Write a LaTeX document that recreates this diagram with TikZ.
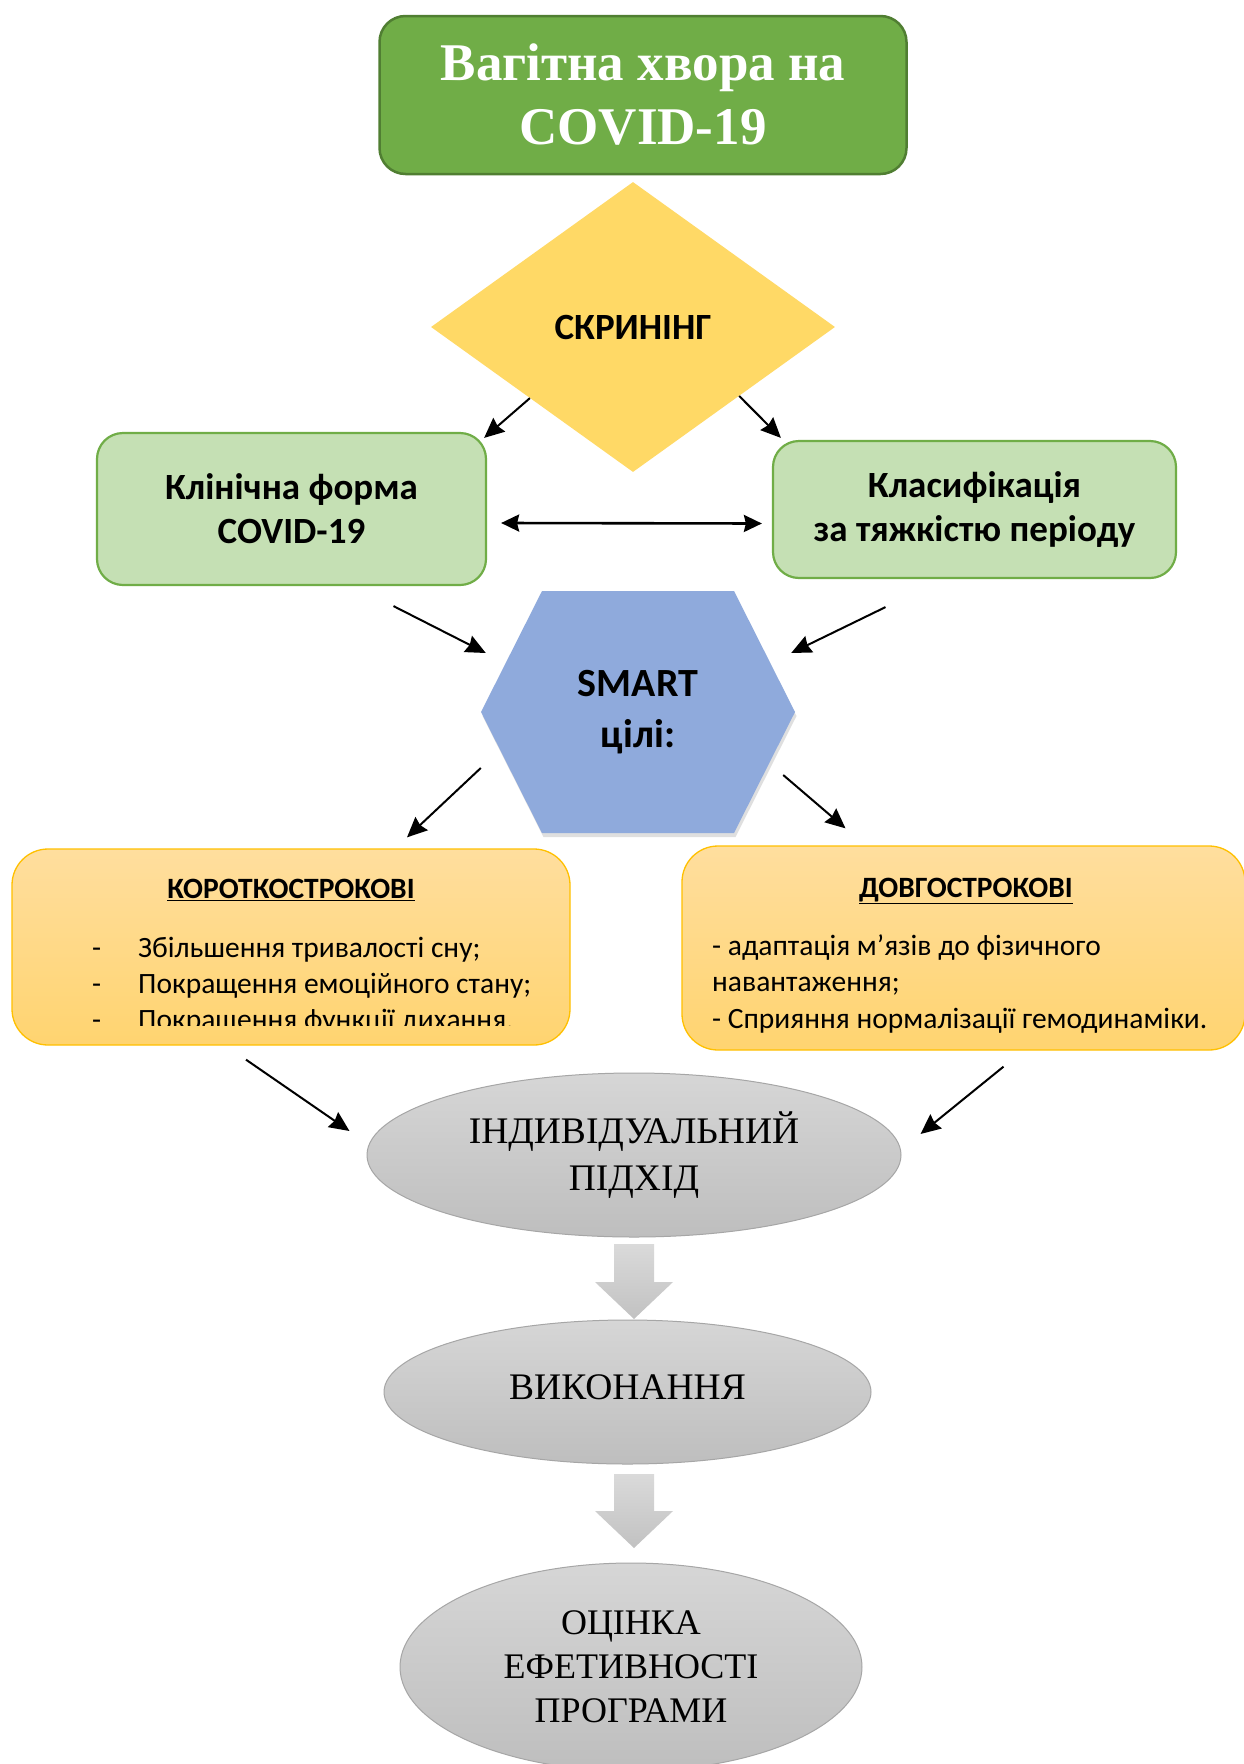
\documentclass[tikz,border=0pt]{standalone}
\usepackage{fontspec}
\setmainfont{Liberation Serif}
\newfontfamily\calib{Carlito}
\usetikzlibrary{shapes.geometric,arrows.meta,calc,shadows}
\definecolor{topgreen}{HTML}{70AD47}
\definecolor{topborder}{HTML}{507E32}
\definecolor{diayellow}{HTML}{FFD966}
\definecolor{lightgreen}{HTML}{C5E0B4}
\definecolor{hexblue}{HTML}{8FAADC}
\definecolor{orangetop}{HTML}{FFDE9E}
\definecolor{orangebot}{HTML}{FFD470}
\definecolor{orangeborder}{HTML}{FFC000}
\definecolor{greytop}{HTML}{D6D6D6}
\definecolor{greybot}{HTML}{BEBEBE}
\begin{document}
\begin{tikzpicture}[x=1pt,y=-1pt,
  conn/.style={line width=2pt,-{Stealth[length=20pt,width=18pt,inset=2pt]}},
  biconn/.style={line width=2.6pt,{Stealth[length=18pt,width=17pt,inset=2pt]}-{Stealth[length=18pt,width=17pt,inset=2pt]}},
  greenbox/.style={draw=topgreen,line width=2.2pt,fill=lightgreen,rounded corners=26pt,inner sep=0pt},
  orangebox/.style={draw=orangeborder,line width=1.3pt,top color=orangetop,bottom color=orangebot,rounded corners=36pt,inner sep=0pt},
  greyell/.style={ellipse,draw=black!35,line width=1pt,top color=greytop,bottom color=greybot,inner sep=0pt},
  blockarr/.style={top color=greytop!90!white,bottom color=greybot!95!white,draw=none},
  calb/.style={font=\calib\bfseries\fontsize{37}{44}\selectfont,align=center},
  serif/.style={font=\fontsize{37.5}{47}\selectfont,align=center},
  bodytext/.style={font=\calib\fontsize{29.5}{36}\selectfont,anchor=base west,inner sep=0pt}
]
\useasboundingbox[fill=white] (0,0) rectangle (1243,1764);

% top box
\node[draw=topborder,line width=2.5pt,fill=topgreen,rounded corners=26pt,
  minimum width=527pt,minimum height=158pt,text=white,
  font=\bfseries\fontsize{53}{64}\selectfont,align=center] (top) at (643,95)
  {\raisebox{-3pt}{Вагітна хвора на}\\\raisebox{-3pt}{COVID-19}};

% diamond
\node[diamond,fill=diayellow,minimum width=404pt,minimum height=290pt,inner sep=0pt,
  font=\calib\bfseries\fontsize{37}{44}\selectfont] (dia) at (633,327) {СКРИНІНГ};

% green boxes
\node[greenbox,minimum width=389pt,minimum height=152pt,calb] (lg) at (291.5,509)
  {Клінічна форма\\COVID-19};
\node[greenbox,minimum width=403pt,minimum height=137pt,calb] (rg) at (974.5,509.5)
  {Класифікація\\за тяжкістю періоду};

\draw[conn] ($(dia.west)!0.49!(dia.south)$) -- ([shift={(-3pt,-6pt)}]lg.north east);
\draw[conn] ($(dia.east)!0.475!(dia.south)$) -- ([shift={(9pt,2pt)}]rg.north west);
\draw[biconn] ([shift={(14pt,-14pt)}]lg.east) -- ([shift={(-10pt,-14pt)}]rg.west);

% hexagon
\fill[hexblue,drop shadow={shadow xshift=1.5pt,shadow yshift=-4pt,opacity=0.25}]
  (542,591) -- (734,591) -- (795,712) -- (734,833) -- (542,833) -- (481,712) -- cycle;
\node[minimum width=314pt,minimum height=242pt,inner sep=0pt,
  font=\calib\bfseries\fontsize{40}{51}\selectfont,align=center] (hex) at (638,712)
  {SMART\\цілі:};

\draw[conn] ([shift={(102pt,-20pt)}]lg.south) -- ([shift={(5pt,59pt)}]hex.west);
\draw[conn] ([shift={(-89pt,-28pt)}]rg.south) -- ([shift={(-4pt,59pt)}]hex.east);

% orange boxes
\node[orangebox,minimum width=558pt,minimum height=196pt] (lo) at (291,947) {};
\node[orangebox,minimum width=563pt,minimum height=204pt] (ro) at (963.5,948) {};

\draw[conn] ([yshift=-56pt]hex.west) -- ([shift={(116pt,11pt)}]lo.north);
\draw[conn] ([shift={(-12pt,-63pt)}]hex.east) -- ([shift={(-118pt,17pt)}]ro.north);

% left box texts
\node[font=\calib\bfseries\fontsize{29.5}{34}\selectfont] (loh) at (291,890) {\underline{КОРОТКОСТРОКОВІ}};
\begin{scope}
  \clip (20,900) rectangle (565,1025);
  \node[bodytext] (d1) at (92,957) {-};
  \node[bodytext] (t1) at (138,957) {Збільшення тривалості сну;};
  \node[bodytext] (d2) at (92,993) {-};
  \node[bodytext] (t2) at (138,993) {Покращення емоційного стану;};
  \node[bodytext] (d3) at (92,1029) {-};
  \node[bodytext] (t3) at (138,1029) {Покращення функції дихання.};
\end{scope}

% right box texts
\node[font=\calib\bfseries\fontsize{29.5}{34}\selectfont] (roh) at (966,891) {\underline{ДОВГОСТРОКОВІ}};
\node[bodytext] (r1) at (712,955) {- адаптація м’язів до фізичного};
\node[bodytext] (r2) at (712,991) {навантаження;};
\node[bodytext] (r3) at (712,1028) {- Сприяння нормалізації гемодинаміки.};

% ellipses
\node[greyell,minimum width=534pt,minimum height=164pt,serif] (e1) at (634,1155)
  {ІНДИВІДУАЛЬНИЙ\\ПІДХІД};
\node[greyell,minimum width=487pt,minimum height=144pt,serif] (e2) at (627.5,1392)
  {\raisebox{9pt}{ВИКОНАННЯ}};
\node[greyell,minimum width=462pt,minimum height=208pt,font=\fontsize{36}{44}\selectfont,align=center] (e3) at (631,1667)
  {ОЦІНКА\\ЕФЕТИВНОСТІ\\ПРОГРАМИ};

\draw[conn] ([shift={(-45pt,-14pt)}]lo.south) -- ([shift={(-17pt,24pt)}]e1.west);
\draw[conn] ([shift={(40pt,-16pt)}]ro.south) -- ([shift={(19pt,21pt)}]e1.east);

% block arrows
\coordinate (b1) at (634,1244);
\path[blockarr] (b1) -- ++(20,0) -- ++(0,38) -- ++(19,0) -- (634,1319) -- (595,1282) -- ++(19,0) -- ++(0,-38) -- cycle;
\coordinate (b2) at (634,1474);
\path[blockarr] (b2) -- ++(20,0) -- ++(0,37) -- ++(19,0) -- (634,1548) -- (595,1511) -- ++(19,0) -- ++(0,-37) -- cycle;
\end{tikzpicture}
\end{document}
